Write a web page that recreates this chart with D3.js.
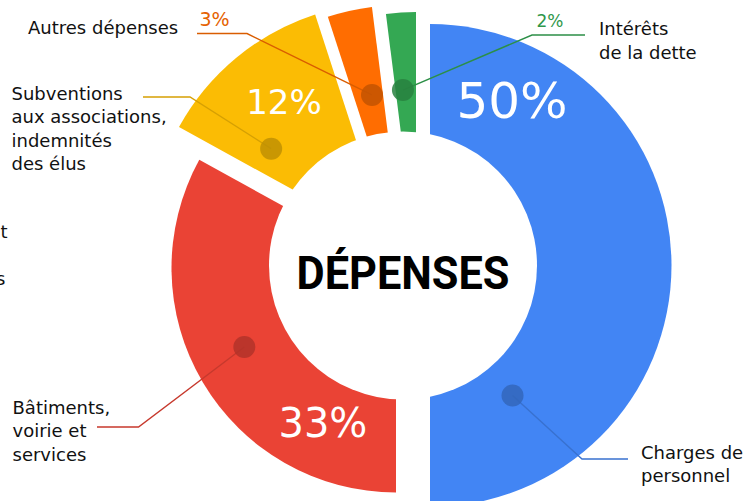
<!DOCTYPE html>
<html>
<head>
<meta charset="utf-8">
<script src="https://cdn.jsdelivr.net/npm/d3@7"></script>
<style>
  body { margin: 0; background: #fff; }
  svg { display: block; }
</style>
</head>
<body>
<div id="chart"></div>
<script>
// data
const categories = ["Charges de personnel", "Bâtiments, voirie et services", "Subventions aux associations, indemnités des élus", "Autres dépenses", "Intérêts de la dette"]
const values = [50, 33, 12, 3, 2]
const pctLabels = ["50%", "33%", "12%", "3%", "2%"]
const labelLines = [["Charges de", "personnel"], ["Bâtiments,", "voirie et", "services"], ["Subventions", "aux associations,", "indemnités", "des élus"], ["Autres dépenses"], ["Intérêts", "de la dette"]]

// style
const colours = ["#4285f4", "#ea4335", "#fbbc04", "#ff6d01", "#34a853"]
const pull = [[27, 0], [-7, 2.5], [-13.7, -22.8], [-1, -20.5], [13, -13.5]]   // exploded offsets
const outerR = [241.5, 224.5, 240, 240, 240]
const dotFrac = [0.82, 0.526, 0.225, 0.62, 0.36]
const dotR = [154, 171, 151, 153, 162.5]
const pctFrac = [0.1615, 0.197, 0.507, null, null]
const pctR = [168.8, 184, 166.3, null, null]
const pctSize = [50, 40, 34, 19, 17]
// annotation layout: elbow, end of leader, text position
const layout = [
  {elbow: [582, 459], end: [628, 459], tx: 641, ty: 458.5, anchor: "start"},
  {elbow: [138.5, 427], end: [97, 427], tx: 12.5, ty: 413.5, anchor: "start"},
  {elbow: [190, 97], end: [143, 97], tx: 11.5, ty: 99.5, anchor: "start"},
  {elbow: [247, 33.5], end: [197, 33.5], tx: 28, ty: 33.5, anchor: "start", px: 199.5, py: 25.5},
  {elbow: [532, 35], end: [585, 35], tx: 599, ty: 35, anchor: "start", px: 536.5, py: 26.5}
]

let svgWidth = 749
let svgHeight = 501
let cx = 403, cy = 265.5
let holeR = 134

let svg = d3.select("#chart")
  .append("svg")
    .attr("width", svgWidth)
    .attr("height", svgHeight)

let pie = d3.pie().value(d => d).sort(null)
let data_ready = pie(values)

let polar = (i, frac, r) => {
  let d = data_ready[i]
  let a = d.startAngle + frac * (d.endAngle - d.startAngle)
  return [cx + pull[i][0] + r * Math.sin(a), cy + pull[i][1] - r * Math.cos(a)]
}

// slices
svg.selectAll("path.slice")
  .data(data_ready)
  .join("path")
  .attr("class", "slice")
  .attr("transform", (d, i) => `translate(${cx + pull[i][0]}, ${cy + pull[i][1]})`)
  .attr("d", (d, i) => d3.arc().innerRadius(0).outerRadius(outerR[i])(d))
  .attr("fill", (d, i) => colours[i])

// centre hole
svg.append("circle")
  .attr("cx", cx).attr("cy", cy).attr("r", holeR)
  .attr("fill", "#fff")

// leader lines
svg.selectAll("path.leader")
  .data(data_ready)
  .join("path")
  .attr("class", "leader")
  .attr("d", (d, i) => d3.line()([polar(i, dotFrac[i], dotR[i]), layout[i].elbow, layout[i].end]))
  .attr("fill", "none")
  .attr("stroke", (d, i) => d3.color(colours[i]).darker(0.45))
  .attr("stroke-width", 1.4)

// dots
svg.selectAll("circle.dot")
  .data(data_ready)
  .join("circle")
  .attr("class", "dot")
  .attr("cx", (d, i) => polar(i, dotFrac[i], dotR[i])[0])
  .attr("cy", (d, i) => polar(i, dotFrac[i], dotR[i])[1])
  .attr("r", 11)
  .attr("fill", (d, i) => d3.color(colours[i]).darker(0.75))
  .attr("opacity", 0.85)

// big percentages inside slices
data_ready.forEach((d, i) => {
  if (pctFrac[i] === null) return
  let p = polar(i, pctFrac[i], pctR[i])
  svg.append("text")
    .attr("x", p[0]).attr("y", p[1])
    .attr("text-anchor", "middle")
    .attr("font-family", "DejaVu Sans")
    .attr("font-size", pctSize[i])
    .attr("fill", "#fff")
    .text(pctLabels[i])
})

// small percentages beside leaders
layout.forEach((l, i) => {
  if (l.px === undefined) return
  svg.append("text")
    .attr("x", l.px).attr("y", l.py)
    .attr("font-family", "DejaVu Sans")
    .attr("font-size", pctSize[i])
    .attr("fill", d3.color(colours[i]).darker(0.3))
    .text(pctLabels[i])
})

// category labels
layout.forEach((l, i) => {
  let t = svg.append("text")
    .attr("font-family", "DejaVu Sans")
    .attr("font-size", 18)
    .attr("fill", "#111")
    .attr("text-anchor", l.anchor)
  t.selectAll("tspan")
    .data(labelLines[i])
    .join("tspan")
    .attr("x", l.tx)
    .attr("y", (s, k) => l.ty + k * 23.6)
    .text(s => s)
})

// pieces of the neighbouring chart, cut by the frame
svg.append("text")
  .attr("x", 7.5).attr("y", 237.5)
  .attr("text-anchor", "end")
  .attr("font-family", "DejaVu Sans").attr("font-size", 18).attr("fill", "#111")
  .text("Impôts et")
svg.append("text")
  .attr("x", 5.5).attr("y", 284.5)
  .attr("text-anchor", "end")
  .attr("font-family", "DejaVu Sans").attr("font-size", 18).attr("fill", "#111")
  .text("taxes")

// title
svg.append("text")
  .attr("x", cx).attr("y", 288.5)
  .attr("text-anchor", "middle")
  .attr("font-family", "Roboto")
  .attr("font-weight", "bold")
  .attr("font-size", 46)
  .attr("textLength", 213)
  .attr("lengthAdjust", "spacingAndGlyphs")
  .attr("fill", "#000")
  .text("DÉPENSES")
</script>
</body>
</html>
